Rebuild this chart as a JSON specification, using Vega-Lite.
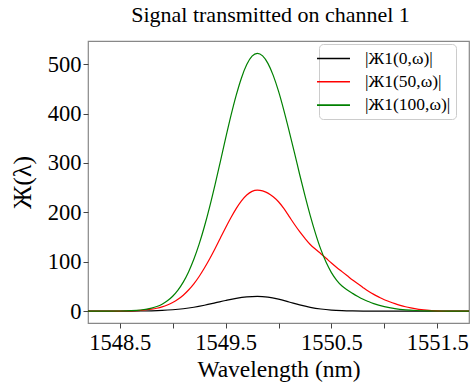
{
  "$schema": "https://vega.github.io/schema/vega-lite/v6.json",
  "autosize": "none",
  "width": 381,
  "height": 282,
  "padding": {"left": 88, "top": 41, "right": 2, "bottom": 62},
  "background": "white",
  "config": {
    "font": "Liberation Serif",
    "view": {"stroke": "#888888", "strokeWidth": 1.2},
    "axis": {"grid": false, "domain": false, "labelFont": "Liberation Serif", "titleFont": "Liberation Serif", "labelColor": "#000", "titleColor": "#000", "tickColor": "#444", "titleFontWeight": "normal", "labelFontSize": 22.5, "titleFontSize": 23.5, "tickSize": 5},
    "legend": {"labelFont": "Liberation Serif", "labelFontSize": 17.5, "labelColor": "#000"}
  },
  "title": {"text": "Signal transmitted on channel 1", "font": "Liberation Serif", "fontSize": 22, "fontWeight": "normal", "color": "#000", "offset": 14, "dx": -8},
  "data": {"values": [
    {"x":1548.2,"y":0,"s":"|Ж1(0,ω)|"},
    {"x":1548.5,"y":0.05,"s":"|Ж1(0,ω)|"},
    {"x":1548.6,"y":0.14,"s":"|Ж1(0,ω)|"},
    {"x":1548.7,"y":0.33,"s":"|Ж1(0,ω)|"},
    {"x":1548.8,"y":0.74,"s":"|Ж1(0,ω)|"},
    {"x":1548.9,"y":1.5,"s":"|Ж1(0,ω)|"},
    {"x":1549.0,"y":2.8,"s":"|Ж1(0,ω)|"},
    {"x":1549.1,"y":4.9,"s":"|Ж1(0,ω)|"},
    {"x":1549.2,"y":7.9,"s":"|Ж1(0,ω)|"},
    {"x":1549.3,"y":11.9,"s":"|Ж1(0,ω)|"},
    {"x":1549.4,"y":16.6,"s":"|Ж1(0,ω)|"},
    {"x":1549.5,"y":21.5,"s":"|Ж1(0,ω)|"},
    {"x":1549.6,"y":25.9,"s":"|Ж1(0,ω)|"},
    {"x":1549.7,"y":28.9,"s":"|Ж1(0,ω)|"},
    {"x":1549.8,"y":30,"s":"|Ж1(0,ω)|"},
    {"x":1549.9,"y":28.4,"s":"|Ж1(0,ω)|"},
    {"x":1550.0,"y":24.2,"s":"|Ж1(0,ω)|"},
    {"x":1550.1,"y":18.5,"s":"|Ж1(0,ω)|"},
    {"x":1550.2,"y":12.6,"s":"|Ж1(0,ω)|"},
    {"x":1550.3,"y":7.8,"s":"|Ж1(0,ω)|"},
    {"x":1550.4,"y":4.3,"s":"|Ж1(0,ω)|"},
    {"x":1550.5,"y":2.1,"s":"|Ж1(0,ω)|"},
    {"x":1550.6,"y":0.94,"s":"|Ж1(0,ω)|"},
    {"x":1550.7,"y":0.37,"s":"|Ж1(0,ω)|"},
    {"x":1550.8,"y":0.13,"s":"|Ж1(0,ω)|"},
    {"x":1550.9,"y":0.04,"s":"|Ж1(0,ω)|"},
    {"x":1551.8,"y":0,"s":"|Ж1(0,ω)|"},

    {"x":1548.2,"y":0,"s":"|Ж1(50,ω)|"},
    {"x":1548.4,"y":0.08,"s":"|Ж1(50,ω)|"},
    {"x":1548.5,"y":0.23,"s":"|Ж1(50,ω)|"},
    {"x":1548.6,"y":0.64,"s":"|Ж1(50,ω)|"},
    {"x":1548.7,"y":1.65,"s":"|Ж1(50,ω)|"},
    {"x":1548.8,"y":3.93,"s":"|Ж1(50,ω)|"},
    {"x":1548.85,"y":5.89,"s":"|Ж1(50,ω)|"},
    {"x":1548.9,"y":8.63,"s":"|Ж1(50,ω)|"},
    {"x":1548.95,"y":12.4,"s":"|Ж1(50,ω)|"},
    {"x":1549.0,"y":17.4,"s":"|Ж1(50,ω)|"},
    {"x":1549.05,"y":24.0,"s":"|Ж1(50,ω)|"},
    {"x":1549.1,"y":32.3,"s":"|Ж1(50,ω)|"},
    {"x":1549.15,"y":42.8,"s":"|Ж1(50,ω)|"},
    {"x":1549.2,"y":55.3,"s":"|Ж1(50,ω)|"},
    {"x":1549.25,"y":70.2,"s":"|Ж1(50,ω)|"},
    {"x":1549.3,"y":87.3,"s":"|Ж1(50,ω)|"},
    {"x":1549.35,"y":106.1,"s":"|Ж1(50,ω)|"},
    {"x":1549.4,"y":126.4,"s":"|Ж1(50,ω)|"},
    {"x":1549.45,"y":147.7,"s":"|Ж1(50,ω)|"},
    {"x":1549.5,"y":168.9,"s":"|Ж1(50,ω)|"},
    {"x":1549.55,"y":189.1,"s":"|Ж1(50,ω)|"},
    {"x":1549.6,"y":207.6,"s":"|Ж1(50,ω)|"},
    {"x":1549.65,"y":223.3,"s":"|Ж1(50,ω)|"},
    {"x":1549.7,"y":235.1,"s":"|Ж1(50,ω)|"},
    {"x":1549.75,"y":242.5,"s":"|Ж1(50,ω)|"},
    {"x":1549.8,"y":245,"s":"|Ж1(50,ω)|"},
    {"x":1549.85,"y":243.5,"s":"|Ж1(50,ω)|"},
    {"x":1549.9,"y":239,"s":"|Ж1(50,ω)|"},
    {"x":1549.95,"y":231.5,"s":"|Ж1(50,ω)|"},
    {"x":1550.0,"y":221.5,"s":"|Ж1(50,ω)|"},
    {"x":1550.05,"y":208,"s":"|Ж1(50,ω)|"},
    {"x":1550.1,"y":192,"s":"|Ж1(50,ω)|"},
    {"x":1550.15,"y":176,"s":"|Ж1(50,ω)|"},
    {"x":1550.2,"y":161,"s":"|Ж1(50,ω)|"},
    {"x":1550.25,"y":147.5,"s":"|Ж1(50,ω)|"},
    {"x":1550.3,"y":135,"s":"|Ж1(50,ω)|"},
    {"x":1550.35,"y":125.3,"s":"|Ж1(50,ω)|"},
    {"x":1550.4,"y":116.3,"s":"|Ж1(50,ω)|"},
    {"x":1550.45,"y":107,"s":"|Ж1(50,ω)|"},
    {"x":1550.5,"y":97.5,"s":"|Ж1(50,ω)|"},
    {"x":1550.55,"y":88.5,"s":"|Ж1(50,ω)|"},
    {"x":1550.6,"y":80,"s":"|Ж1(50,ω)|"},
    {"x":1550.65,"y":71.5,"s":"|Ж1(50,ω)|"},
    {"x":1550.7,"y":63,"s":"|Ж1(50,ω)|"},
    {"x":1550.75,"y":55.3,"s":"|Ж1(50,ω)|"},
    {"x":1550.8,"y":47.6,"s":"|Ж1(50,ω)|"},
    {"x":1550.85,"y":40.3,"s":"|Ж1(50,ω)|"},
    {"x":1550.9,"y":34,"s":"|Ж1(50,ω)|"},
    {"x":1550.95,"y":28.4,"s":"|Ж1(50,ω)|"},
    {"x":1551.0,"y":23.2,"s":"|Ж1(50,ω)|"},
    {"x":1551.05,"y":19,"s":"|Ж1(50,ω)|"},
    {"x":1551.1,"y":15.2,"s":"|Ж1(50,ω)|"},
    {"x":1551.15,"y":11.8,"s":"|Ж1(50,ω)|"},
    {"x":1551.2,"y":8.9,"s":"|Ж1(50,ω)|"},
    {"x":1551.25,"y":6.6,"s":"|Ж1(50,ω)|"},
    {"x":1551.3,"y":4.7,"s":"|Ж1(50,ω)|"},
    {"x":1551.35,"y":3.2,"s":"|Ж1(50,ω)|"},
    {"x":1551.4,"y":2.1,"s":"|Ж1(50,ω)|"},
    {"x":1551.5,"y":0.7,"s":"|Ж1(50,ω)|"},
    {"x":1551.6,"y":0.2,"s":"|Ж1(50,ω)|"},
    {"x":1551.8,"y":0,"s":"|Ж1(50,ω)|"},

    {"x":1548.2,"y":0,"s":"|Ж1(100,ω)|"},
    {"x":1548.3,"y":0.02,"s":"|Ж1(100,ω)|"},
    {"x":1548.4,"y":0.1,"s":"|Ж1(100,ω)|"},
    {"x":1548.5,"y":0.28,"s":"|Ж1(100,ω)|"},
    {"x":1548.6,"y":0.86,"s":"|Ж1(100,ω)|"},
    {"x":1548.7,"y":2.38,"s":"|Ж1(100,ω)|"},
    {"x":1548.8,"y":6.07,"s":"|Ж1(100,ω)|"},
    {"x":1548.85,"y":9.36,"s":"|Ж1(100,ω)|"},
    {"x":1548.9,"y":14.1,"s":"|Ж1(100,ω)|"},
    {"x":1548.95,"y":20.9,"s":"|Ж1(100,ω)|"},
    {"x":1549.0,"y":30.2,"s":"|Ж1(100,ω)|"},
    {"x":1549.05,"y":42.6,"s":"|Ж1(100,ω)|"},
    {"x":1549.1,"y":58.8,"s":"|Ж1(100,ω)|"},
    {"x":1549.15,"y":79.5,"s":"|Ж1(100,ω)|"},
    {"x":1549.2,"y":105,"s":"|Ж1(100,ω)|"},
    {"x":1549.25,"y":135.6,"s":"|Ж1(100,ω)|"},
    {"x":1549.3,"y":171.4,"s":"|Ж1(100,ω)|"},
    {"x":1549.35,"y":211.8,"s":"|Ж1(100,ω)|"},
    {"x":1549.4,"y":255.9,"s":"|Ж1(100,ω)|"},
    {"x":1549.45,"y":302.4,"s":"|Ж1(100,ω)|"},
    {"x":1549.5,"y":349.6,"s":"|Ж1(100,ω)|"},
    {"x":1549.55,"y":395.2,"s":"|Ж1(100,ω)|"},
    {"x":1549.6,"y":436.8,"s":"|Ж1(100,ω)|"},
    {"x":1549.65,"y":472.2,"s":"|Ж1(100,ω)|"},
    {"x":1549.7,"y":499.2,"s":"|Ж1(100,ω)|"},
    {"x":1549.75,"y":516.2,"s":"|Ж1(100,ω)|"},
    {"x":1549.8,"y":522,"s":"|Ж1(100,ω)|"},
    {"x":1549.85,"y":516.8,"s":"|Ж1(100,ω)|"},
    {"x":1549.9,"y":501.7,"s":"|Ж1(100,ω)|"},
    {"x":1549.95,"y":477.4,"s":"|Ж1(100,ω)|"},
    {"x":1550.0,"y":445.4,"s":"|Ж1(100,ω)|"},
    {"x":1550.05,"y":407.1,"s":"|Ж1(100,ω)|"},
    {"x":1550.1,"y":365.2,"s":"|Ж1(100,ω)|"},
    {"x":1550.15,"y":321.5,"s":"|Ж1(100,ω)|"},
    {"x":1550.2,"y":276.7,"s":"|Ж1(100,ω)|"},
    {"x":1550.25,"y":233.8,"s":"|Ж1(100,ω)|"},
    {"x":1550.3,"y":193.5,"s":"|Ж1(100,ω)|"},
    {"x":1550.35,"y":157.1,"s":"|Ж1(100,ω)|"},
    {"x":1550.4,"y":125.0,"s":"|Ж1(100,ω)|"},
    {"x":1550.45,"y":98.8,"s":"|Ж1(100,ω)|"},
    {"x":1550.5,"y":78.1,"s":"|Ж1(100,ω)|"},
    {"x":1550.55,"y":62.5,"s":"|Ж1(100,ω)|"},
    {"x":1550.6,"y":50.9,"s":"|Ж1(100,ω)|"},
    {"x":1550.65,"y":42.8,"s":"|Ж1(100,ω)|"},
    {"x":1550.7,"y":36.0,"s":"|Ж1(100,ω)|"},
    {"x":1550.75,"y":29.7,"s":"|Ж1(100,ω)|"},
    {"x":1550.8,"y":24.0,"s":"|Ж1(100,ω)|"},
    {"x":1550.85,"y":19.4,"s":"|Ж1(100,ω)|"},
    {"x":1550.9,"y":15.3,"s":"|Ж1(100,ω)|"},
    {"x":1551.0,"y":9.25,"s":"|Ж1(100,ω)|"},
    {"x":1551.1,"y":5.2,"s":"|Ж1(100,ω)|"},
    {"x":1551.2,"y":2.73,"s":"|Ж1(100,ω)|"},
    {"x":1551.3,"y":1.36,"s":"|Ж1(100,ω)|"},
    {"x":1551.4,"y":0.6,"s":"|Ж1(100,ω)|"},
    {"x":1551.5,"y":0.25,"s":"|Ж1(100,ω)|"},
    {"x":1551.6,"y":0.1,"s":"|Ж1(100,ω)|"},
    {"x":1551.8,"y":0,"s":"|Ж1(100,ω)|"}
  ]},
  "mark": {"type": "line", "interpolate": "monotone", "strokeWidth": 1.2, "clip": true},
  "encoding": {
    "x": {"field": "x", "type": "quantitative", "title": "Wavelength (nm)",
      "scale": {"domain": [1548.2, 1551.8], "nice": false, "zero": false},
      "axis": {"values": [1548.5, 1549, 1549.5, 1550, 1550.5, 1551, 1551.5], "format": ".1f", "labelExpr": "datum.value % 1 ? datum.label : ''", "labelPadding": 3, "titlePadding": 4, "labelFlush": false}},
    "y": {"field": "y", "type": "quantitative", "title": "Ж(λ)",
      "scale": {"domain": [-24, 547], "nice": false, "zero": false},
      "axis": {"values": [0, 100, 200, 300, 400, 500], "labelPadding": 2, "titlePadding": 12, "titleFontSize": 26}},
    "color": {"field": "s", "type": "nominal", "sort": ["|Ж1(0,ω)|", "|Ж1(50,ω)|", "|Ж1(100,ω)|"],
      "scale": {"domain": ["|Ж1(0,ω)|", "|Ж1(50,ω)|", "|Ж1(100,ω)|"], "range": ["#000000", "#ff0000", "#008000"]},
      "legend": {"title": null, "orient": "none", "legendX": 231, "legendY": 3, "symbolType": "M-2,0H2", "symbolSize": 272, "symbolStrokeWidth": 1.6, "labelOffset": 22, "rowPadding": 5.3, "padding": 5, "cornerRadius": 4, "strokeColor": "#cccccc", "fillColor": "white"}}
  }
}
